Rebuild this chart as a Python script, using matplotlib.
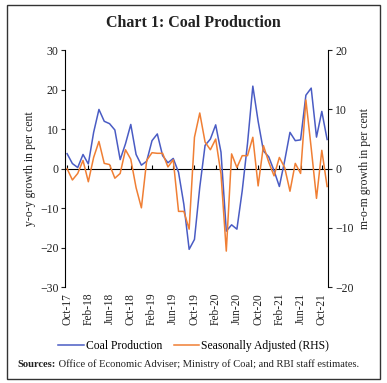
import matplotlib
matplotlib.use("Agg")
import matplotlib.pyplot as plt
from matplotlib.patches import Rectangle
import numpy as np

plt.rcParams['font.family'] = ['Liberation Serif', 'DejaVu Serif']

# monthly data, Oct-17 .. Nov-21
coal = [3.8, 1.3, 0.3, 3.6, 1.2, 9.2, 15.0, 12.0, 11.4, 9.8,
        2.3, 6.3, 11.2, 3.6, 0.9, 1.9, 7.1, 8.8, 3.3, 1.5,
        2.6, -0.9, -9.0, -20.4, -17.9, -4.7, 5.9, 7.5, 11.1, 4.2,
        -15.8, -14.2, -15.3, -5.6, 6.4, 20.9, 12.0, 4.5, 3.0, -0.5,
        -4.5, 2.0, 9.2, 7.1, 7.3, 18.6, 20.4, 8.0, 14.5, 7.4]
seas_adj = [0.0, -1.9, -0.8, 1.4, -2.2, 1.9, 4.6, 0.9, 0.7, -1.6,
            -0.8, 3.2, 1.6, -3.2, -6.6, 1.4, 2.7, 2.6, 2.6, 0.3,
            1.5, -7.2, -7.2, -10.2, 5.3, 9.4, 4.5, 3.2, 5.0, -0.9,
            -13.9, 2.5, 0.2, 2.2, 2.2, 5.3, -2.9, 3.9, 1.1, -1.2,
            1.9, 0.2, -3.8, 0.9, -0.8, 11.6, 3.5, -5.0, 3.1, -3.0]
tick_labels = ['Oct-17', 'Feb-18', 'Jun-18', 'Oct-18', 'Feb-19', 'Jun-19', 'Oct-19',
               'Feb-20', 'Jun-20', 'Oct-20', 'Feb-21', 'Jun-21', 'Oct-21']

blue = '#4a5cc4'
orange = '#f07f34'
txt = '#222222'

x = np.arange(len(coal))
ticks = np.arange(0, len(coal), 4)

fig = plt.figure(figsize=(3.87, 3.83), dpi=100)
ax = fig.add_axes([0.169, 0.25, 0.679, 0.619])
ax2 = ax.twinx()

l1, = ax.plot(x, coal, color=blue, lw=1.1, label='Coal Production')
l2, = ax2.plot(x, seas_adj, color=orange, lw=1.1, label='Seasonally Adjusted (RHS)')

ax.set_xlim(-0.32, 49.2)
ax.set_ylim(-30, 30)
ax2.set_ylim(-20, 20)
ax.set_yticks([-30, -20, -10, 0, 10, 20, 30])
ax2.set_yticks([-20, -10, 0, 10, 20])

for a in (ax, ax2):
    a.spines['top'].set_visible(False)
    a.spines['bottom'].set_visible(False)
    a.tick_params(axis='y', length=3, width=0.8, labelsize=8.5, colors=txt, pad=2)
ax.spines['right'].set_visible(False)
ax2.spines['left'].set_visible(False)

ax.set_xticks(ticks)
ax.set_xticklabels(tick_labels, rotation=90, fontsize=8.3, color=txt)
ax.tick_params(axis='x', length=0, pad=4)

# zero line carrying the month ticks
zero = ax.secondary_xaxis(0.5)
zero.set_xticks(ticks)
zero.set_xticklabels([])
zero.tick_params(axis='x', length=3, width=0.8, direction='out')
zero.spines['bottom'].set_linewidth(0.9)

ax.set_ylabel('y-o-y growth in per cent', fontsize=8.5, color=txt, labelpad=3)
ax2.set_ylabel('m-o-m growth in per cent', fontsize=8.5, color=txt, rotation=90, labelpad=4)

fig.text(0.5, 0.94, 'Chart 1: Coal Production', ha='center', va='center',
         fontsize=11.5, fontweight='bold', color=txt)

fig.legend(handles=[l1, l2], loc='center', bbox_to_anchor=(0.5, 0.096), ncol=2,
           frameon=False, fontsize=8.4, handlelength=2.2, columnspacing=1.0, handletextpad=0.15)

src = fig.text(0.045, 0.048, 'Sources:', fontsize=7.6, fontweight='bold', color=txt,
               va='center')
ax.annotate(' Office of Economic Adviser; Ministry of Coal; and RBI staff estimates.',
            xy=(1, 0), xycoords=src, va='bottom', fontsize=7.6, color=txt,
            annotation_clip=False)

fig.add_artist(Rectangle((6.5 / 387, 1 - 378.5 / 383), 373.5 / 387, 373.5 / 383,
                         transform=fig.transFigure, fill=False, lw=1.0, ec='#333333'))

fig.savefig('out.png', dpi=100)
